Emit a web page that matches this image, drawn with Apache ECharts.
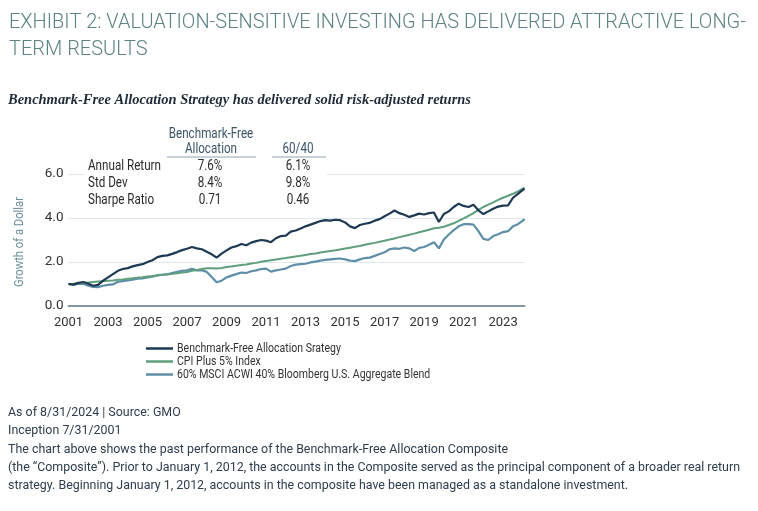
<!DOCTYPE html>
<html><head><meta charset="utf-8">
<script src="https://cdn.jsdelivr.net/npm/echarts@6/dist/echarts.min.js"></script>
<style>html,body{margin:0;padding:0;background:#fff}#c{width:758px;height:511px}</style>
</head><body><div id="c"></div>
<script>
// ---------- data ----------
const dates = ['2001-07','2001-10',
 '2002-01','2002-04','2002-07','2002-10','2003-01','2003-04','2003-07','2003-10',
 '2004-01','2004-04','2004-07','2004-10','2005-01','2005-04','2005-07','2005-10',
 '2006-01','2006-04','2006-07','2006-10','2007-01','2007-04','2007-07','2007-10',
 '2008-01','2008-04','2008-07','2008-10','2009-01','2009-04','2009-07','2009-10',
 '2010-01','2010-04','2010-07','2010-10','2011-01','2011-04','2011-07','2011-10',
 '2012-01','2012-04','2012-07','2012-10','2013-01','2013-04','2013-07','2013-10',
 '2014-01','2014-04','2014-07','2014-10','2015-01','2015-04','2015-07','2015-10',
 '2016-01','2016-04','2016-07','2016-10','2017-01','2017-04','2017-07','2017-10',
 '2018-01','2018-04','2018-07','2018-10','2019-01','2019-04','2019-07','2019-10',
 '2020-01','2020-04','2020-07','2020-10','2021-01','2021-04','2021-07','2021-10',
 '2022-01','2022-04','2022-07','2022-10','2023-01','2023-04','2023-07','2023-10',
 '2024-01','2024-04','2024-07','2024-08'];

const bfa = [1.00,0.97,1.05,1.09,1.01,0.92,0.96,1.15,1.30,1.45,
 1.60,1.68,1.72,1.80,1.86,1.90,2.00,2.08,2.22,2.28,
 2.30,2.37,2.45,2.54,2.60,2.68,2.62,2.58,2.47,2.35,
 2.20,2.38,2.53,2.66,2.72,2.82,2.76,2.88,2.95,3.00,
 2.97,2.90,3.08,3.18,3.20,3.38,3.43,3.52,3.62,3.70,
 3.78,3.86,3.90,3.88,3.92,3.90,3.80,3.62,3.54,3.68,
 3.74,3.78,3.88,3.95,4.08,4.20,4.34,4.22,4.15,4.05,
 4.12,4.20,4.16,4.22,4.25,3.82,4.18,4.30,4.50,4.65,
 4.55,4.50,4.60,4.35,4.18,4.30,4.42,4.52,4.56,4.57,
 4.92,5.10,5.28,5.34];

const cpiPlus5 = [1.00,1.01,1.03,1.05,1.07,1.09,1.11,1.13,1.15,1.16,
 1.19,1.21,1.24,1.26,1.29,1.31,1.34,1.36,1.39,1.42,
 1.44,1.46,1.49,1.52,1.55,1.60,1.64,1.68,1.72,1.72,
 1.71,1.73,1.77,1.80,1.83,1.86,1.89,1.93,1.96,2.01,
 2.05,2.08,2.11,2.15,2.18,2.22,2.25,2.28,2.32,2.36,
 2.39,2.43,2.47,2.50,2.53,2.57,2.61,2.65,2.69,2.73,
 2.78,2.83,2.87,2.92,2.97,3.02,3.07,3.13,3.18,3.24,
 3.29,3.35,3.41,3.47,3.53,3.56,3.60,3.68,3.76,3.87,
 3.98,4.10,4.22,4.37,4.50,4.61,4.71,4.82,4.92,5.01,
 5.10,5.21,5.33,5.38];

const blend6040 = [1.00,0.97,1.00,1.01,0.92,0.87,0.86,0.92,0.96,0.98,
 1.10,1.13,1.16,1.20,1.24,1.25,1.30,1.33,1.40,1.42,
 1.44,1.50,1.55,1.60,1.62,1.69,1.62,1.63,1.55,1.32,
 1.08,1.15,1.30,1.38,1.45,1.52,1.50,1.58,1.62,1.68,
 1.70,1.56,1.62,1.66,1.70,1.82,1.88,1.90,1.92,1.98,
 2.02,2.06,2.10,2.12,2.14,2.16,2.12,2.06,2.04,2.12,
 2.18,2.20,2.28,2.36,2.44,2.58,2.62,2.60,2.66,2.62,
 2.50,2.64,2.68,2.78,2.90,2.62,3.02,3.25,3.45,3.62,
 3.72,3.72,3.70,3.40,3.05,3.00,3.18,3.26,3.36,3.40,
 3.62,3.72,3.88,3.96];

const seriesNames = ['Benchmark-Free Allocation Srategy','CPI Plus 5% Index','60% MSCI ACWI 40% Bloomberg U.S. Aggregate Blend'];
const tableHeaderA = ['Benchmark-Free','Allocation'];
const tableHeaderB = '60/40';
const tableRows = ['Annual Return','Std Dev','Sharpe Ratio'];
const statsBFA = ['7.6%','8.4%','0.71'];
const stats6040 = ['6.1%','9.8%','0.46'];
const titleLines = ['EXHIBIT 2: VALUATION-SENSITIVE INVESTING HAS DELIVERED ATTRACTIVE LONG-','TERM RESULTS'];
const subtitle = 'Benchmark-Free Allocation Strategy has delivered solid risk-adjusted returns';
const yAxisName = 'Growth of a Dollar';
const footerLines = ['As of 8/31/2024 | Source: GMO','Inception 7/31/2001',
 'The chart above shows the past performance of the Benchmark-Free Allocation Composite',
 '(the \u201CComposite\u201D). Prior to January 1, 2012, the accounts in the Composite served as the principal component of a broader real return',
 'strategy. Beginning January 1, 2012, accounts in the composite have been managed as a standalone investment.'];

// ---------- helpers ----------
function monthIndex(d){const p=d.split('-').map(Number);return (p[0]-2001)*12+(p[1]-7);}
function pairs(vals){return dates.map((d,i)=>[monthIndex(d),vals[i]]);}
const lastMonth = monthIndex(dates[dates.length-1]);

const mctx = document.createElement('canvas').getContext('2d');
function measure(text, size, family, weight, style){
  mctx.font = (style||'normal')+' '+(weight||'normal')+' '+size+'px '+family;
  return mctx.measureText(text).width;
}
function txt(text, x, y, o){
  return {type:'text', x:x, y:y, z:100, scaleX:o.scaleX||1, rotation:o.rotation||0,
    style:{text:text, fill:o.fill, fontSize:o.size, fontFamily:o.family, fontWeight:o.weight||'normal',
      fontStyle:o.style||'normal', align:o.align||'left', verticalAlign:'middle',
      textAlign:o.align||'left', textVerticalAlign:'middle'}};
}

const RB = 'Roboto';
const titleScale = 737 / measure(titleLines[0], 21, RB, 300);
const subScale = 463 / measure(subtitle, 14, 'Liberation Serif', 'bold', 'italic');
const footScale = 732 / measure(footerLines[3], 13, RB);
const tabScale = 73 / measure(tableRows[0], 14, RB);
const yNameScale = 90 / measure(yAxisName, 13, RB);
const legScale = 164 / measure(seriesNames[0], 12, RB);

const colors = ['#1e3a52','#5f9f7c','#5f8fa8'];

const g = [];
titleLines.forEach((t,i)=>g.push(txt(t, 9, 23+i*27, {size:21, family:RB, weight:300, fill:'#5d8384', scaleX:titleScale})));
g.push(txt(subtitle, 8, 100, {size:14, family:'Liberation Serif', weight:'bold', style:'italic', fill:'#1f2b38', scaleX:subScale}));
footerLines.forEach((t,i)=>g.push(txt(t, 8, 413+i*18.2, {size:13, family:RB, fill:'#2e3d4d', scaleX:footScale})));
// table
g.push({type:'rect', z:90, shape:{x:84,y:124,width:243,height:86}, style:{fill:'#fff'}});
g.push(txt(tableHeaderA[0], 211, 134, {size:14, family:RB, fill:'#3b5668', align:'center', scaleX:tabScale}));
g.push(txt(tableHeaderA[1], 211, 149, {size:14, family:RB, fill:'#3b5668', align:'center', scaleX:tabScale}));
g.push(txt(tableHeaderB, 298, 149, {size:14, family:RB, fill:'#3b5668', align:'center', scaleX:tabScale}));
g.push({type:'line', z:100, shape:{x1:167,y1:157,x2:256,y2:157}, style:{stroke:'#8fa3b0', lineWidth:1}});
g.push({type:'line', z:100, shape:{x1:272,y1:157,x2:326,y2:157}, style:{stroke:'#8fa3b0', lineWidth:1}});
tableRows.forEach((t,i)=>{
  const y = 166 + i*17;
  g.push(txt(t, 88, y, {size:14, family:RB, fill:'#2b2b2b', scaleX:tabScale}));
  g.push(txt(statsBFA[i], 210, y, {size:14, family:RB, fill:'#2b2b2b', align:'center', scaleX:tabScale}));
  g.push(txt(stats6040[i], 298, y, {size:14, family:RB, fill:'#2b2b2b', align:'center', scaleX:tabScale}));
});
g.push(txt(yAxisName, 20, 242, {size:13, family:RB, fill:'#6a8f9c', align:'center', scaleX:yNameScale, rotation:Math.PI/2}));
// legend (condensed text)
seriesNames.forEach((n,i)=>{
  const y = 348.5 + i*13;
  g.push({type:'line', z:100, shape:{x1:146,y1:y,x2:173,y2:y}, style:{stroke:colors[i], lineWidth:2.5}});
  g.push(txt(n, 177, y, {size:12, family:RB, fill:'#333', scaleX:legScale}));
});

const axisFont = "'Roboto', sans-serif";

const option = {
  animation:false,
  color: colors,
  grid:{left:68.5, right:233.5, top:174, bottom:205},
  xAxis:{type:'value', min:0, max:lastMonth, interval:24,
    axisLine:{show:true, lineStyle:{color:'#8298a8', width:2}},
    axisTick:{show:false}, splitLine:{show:false},
    axisLabel:{formatter:v=> (v%24===0 ? String(2001+v/12) : ''), margin:10, color:'#333', fontSize:13, fontFamily:axisFont, showMaxLabel:false}},
  yAxis:{type:'value', min:0, max:6, interval:2,
    axisLine:{show:false}, axisTick:{show:false},
    splitLine:{lineStyle:{color:'#e1e8ec', width:1}},
    axisLabel:{formatter:v=>v.toFixed(1), margin:5, color:'#333', fontSize:13.5, fontFamily:axisFont}},
  series:[
    {name:seriesNames[0], type:'line', data:pairs(bfa), showSymbol:false, z:4, lineStyle:{width:2.2, color:colors[0]}},
    {name:seriesNames[1], type:'line', data:pairs(cpiPlus5), showSymbol:false, z:3, lineStyle:{width:2, color:colors[1]}},
    {name:seriesNames[2], type:'line', data:pairs(blend6040), showSymbol:false, z:2, lineStyle:{width:2.2, color:colors[2]}}
  ],
  graphic: g
};
const chart = echarts.init(document.getElementById('c'), null, {renderer:'canvas'});
chart.setOption(option);
</script></body></html>
